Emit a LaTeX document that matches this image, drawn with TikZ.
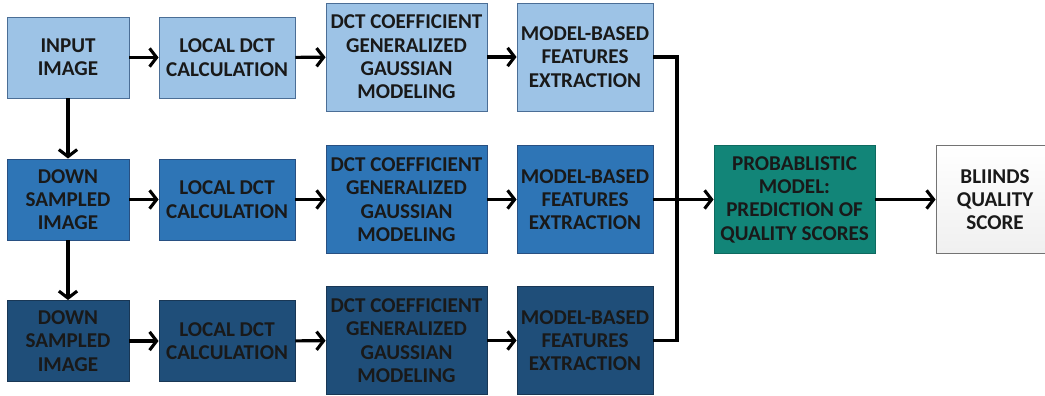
\documentclass[tikz,border=0pt]{standalone}
\usepackage{fontspec}
\setmainfont{Carlito}
\usetikzlibrary{arrows.meta}

\definecolor{rowA}{RGB}{157,195,230}
\definecolor{rowAline}{RGB}{75,110,150}
\definecolor{rowB}{RGB}{46,117,182}
\definecolor{rowBline}{RGB}{40,80,130}
\definecolor{rowC}{RGB}{31,78,121}
\definecolor{rowCline}{RGB}{25,55,85}
\definecolor{teal}{RGB}{18,133,120}
\definecolor{textdark}{RGB}{25,25,25}

\begin{document}
\begin{tikzpicture}[x=0.025cm,y=-0.025cm,
  blk/.style={draw,line width=0.6pt,align=center,inner sep=0pt,
    font=\fontsize{15}{16.6}\selectfont\bfseries,text=textdark},
  small/.style={blk,minimum height=2.025cm},
  tall/.style={blk,minimum height=2.7cm},
  flow/.style={-{Straight Barb[length=5pt,width=13pt]},line width=2.2pt},
  wire/.style={line width=2.2pt}]

\useasboundingbox (0,0) rectangle (1045,395);

% row 1
\node[small,fill=rowA,draw=rowAline,minimum width=3.05cm] (in1) at (68, 57.5) {INPUT\\IMAGE};
\node[small,fill=rowA,draw=rowAline,minimum width=3.4cm] (loc1) at (227, 57.5) {LOCAL DCT\\CALCULATION};
\node[tall,fill=rowA,draw=rowAline,minimum width=4.025cm] (gg1) at (406.5, 57) {DCT COEFFICIENT\\GENERALIZED\\GAUSSIAN\\MODELING};
\node[tall,fill=rowA,draw=rowAline,minimum width=3.4cm] (mb1) at (585, 57) {MODEL-BASED\\FEATURES\\EXTRACTION};

% row 2
\node[small,fill=rowB,draw=rowBline,minimum width=3.05cm] (in2) at (68, 199.5) {DOWN\\SAMPLED\\IMAGE};
\node[small,fill=rowB,draw=rowBline,minimum width=3.4cm] (loc2) at (227, 199.5) {LOCAL DCT\\CALCULATION};
\node[tall,fill=rowB,draw=rowBline,minimum width=4.025cm] (gg2) at (406.5, 199.5) {DCT COEFFICIENT\\GENERALIZED\\GAUSSIAN\\MODELING};
\node[tall,fill=rowB,draw=rowBline,minimum width=3.4cm] (mb2) at (585, 199.5) {MODEL-BASED\\FEATURES\\EXTRACTION};

% row 3
\node[small,fill=rowC,draw=rowCline,minimum width=3.05cm] (in3) at (68, 341) {DOWN\\SAMPLED\\IMAGE};
\node[small,fill=rowC,draw=rowCline,minimum width=3.4cm] (loc3) at (227, 341) {LOCAL DCT\\CALCULATION};
\node[tall,fill=rowC,draw=rowCline,minimum width=4.025cm] (gg3) at (406.5, 340.5) {DCT COEFFICIENT\\GENERALIZED\\GAUSSIAN\\MODELING};
\node[tall,fill=rowC,draw=rowCline,minimum width=3.4cm] (mb3) at (585, 340.5) {MODEL-BASED\\FEATURES\\EXTRACTION};

% prediction and score
\node[tall,fill=teal,draw=teal!80!black,minimum width=4.025cm] (prob) at (794.5, 199.5) {PROBABLISTIC\\MODEL:\\PREDICTION OF\\QUALITY SCORES};
\node[tall,top color=white,bottom color=black!6,draw=black!55,minimum width=2.95cm] (score) at (995, 199.5) {BLIINDS\\QUALITY\\SCORE};

\draw[flow] (in1) -- (loc1);
\draw[flow] (loc1) -- (gg1);
\draw[flow] (gg1) -- (mb1);
\draw[flow] (in2) -- (loc2);
\draw[flow] (loc2) -- (gg2);
\draw[flow] (gg2) -- (mb2);
\draw[flow] (in3) -- (loc3);
\draw[flow] (loc3) -- (gg3);
\draw[flow] (gg3) -- (mb3);

\draw[flow] (in1) -- (in2);
\draw[flow] (in2) -- (in3);

\coordinate (join) at (677, 199.5);
\draw[wire] (mb1.east) -| (join) |- (mb3.east);
\draw[wire] (mb2.east) -- (join);
\draw[flow] (join) -- (prob);
\draw[flow] (prob) -- (score);

\end{tikzpicture}
\end{document}
